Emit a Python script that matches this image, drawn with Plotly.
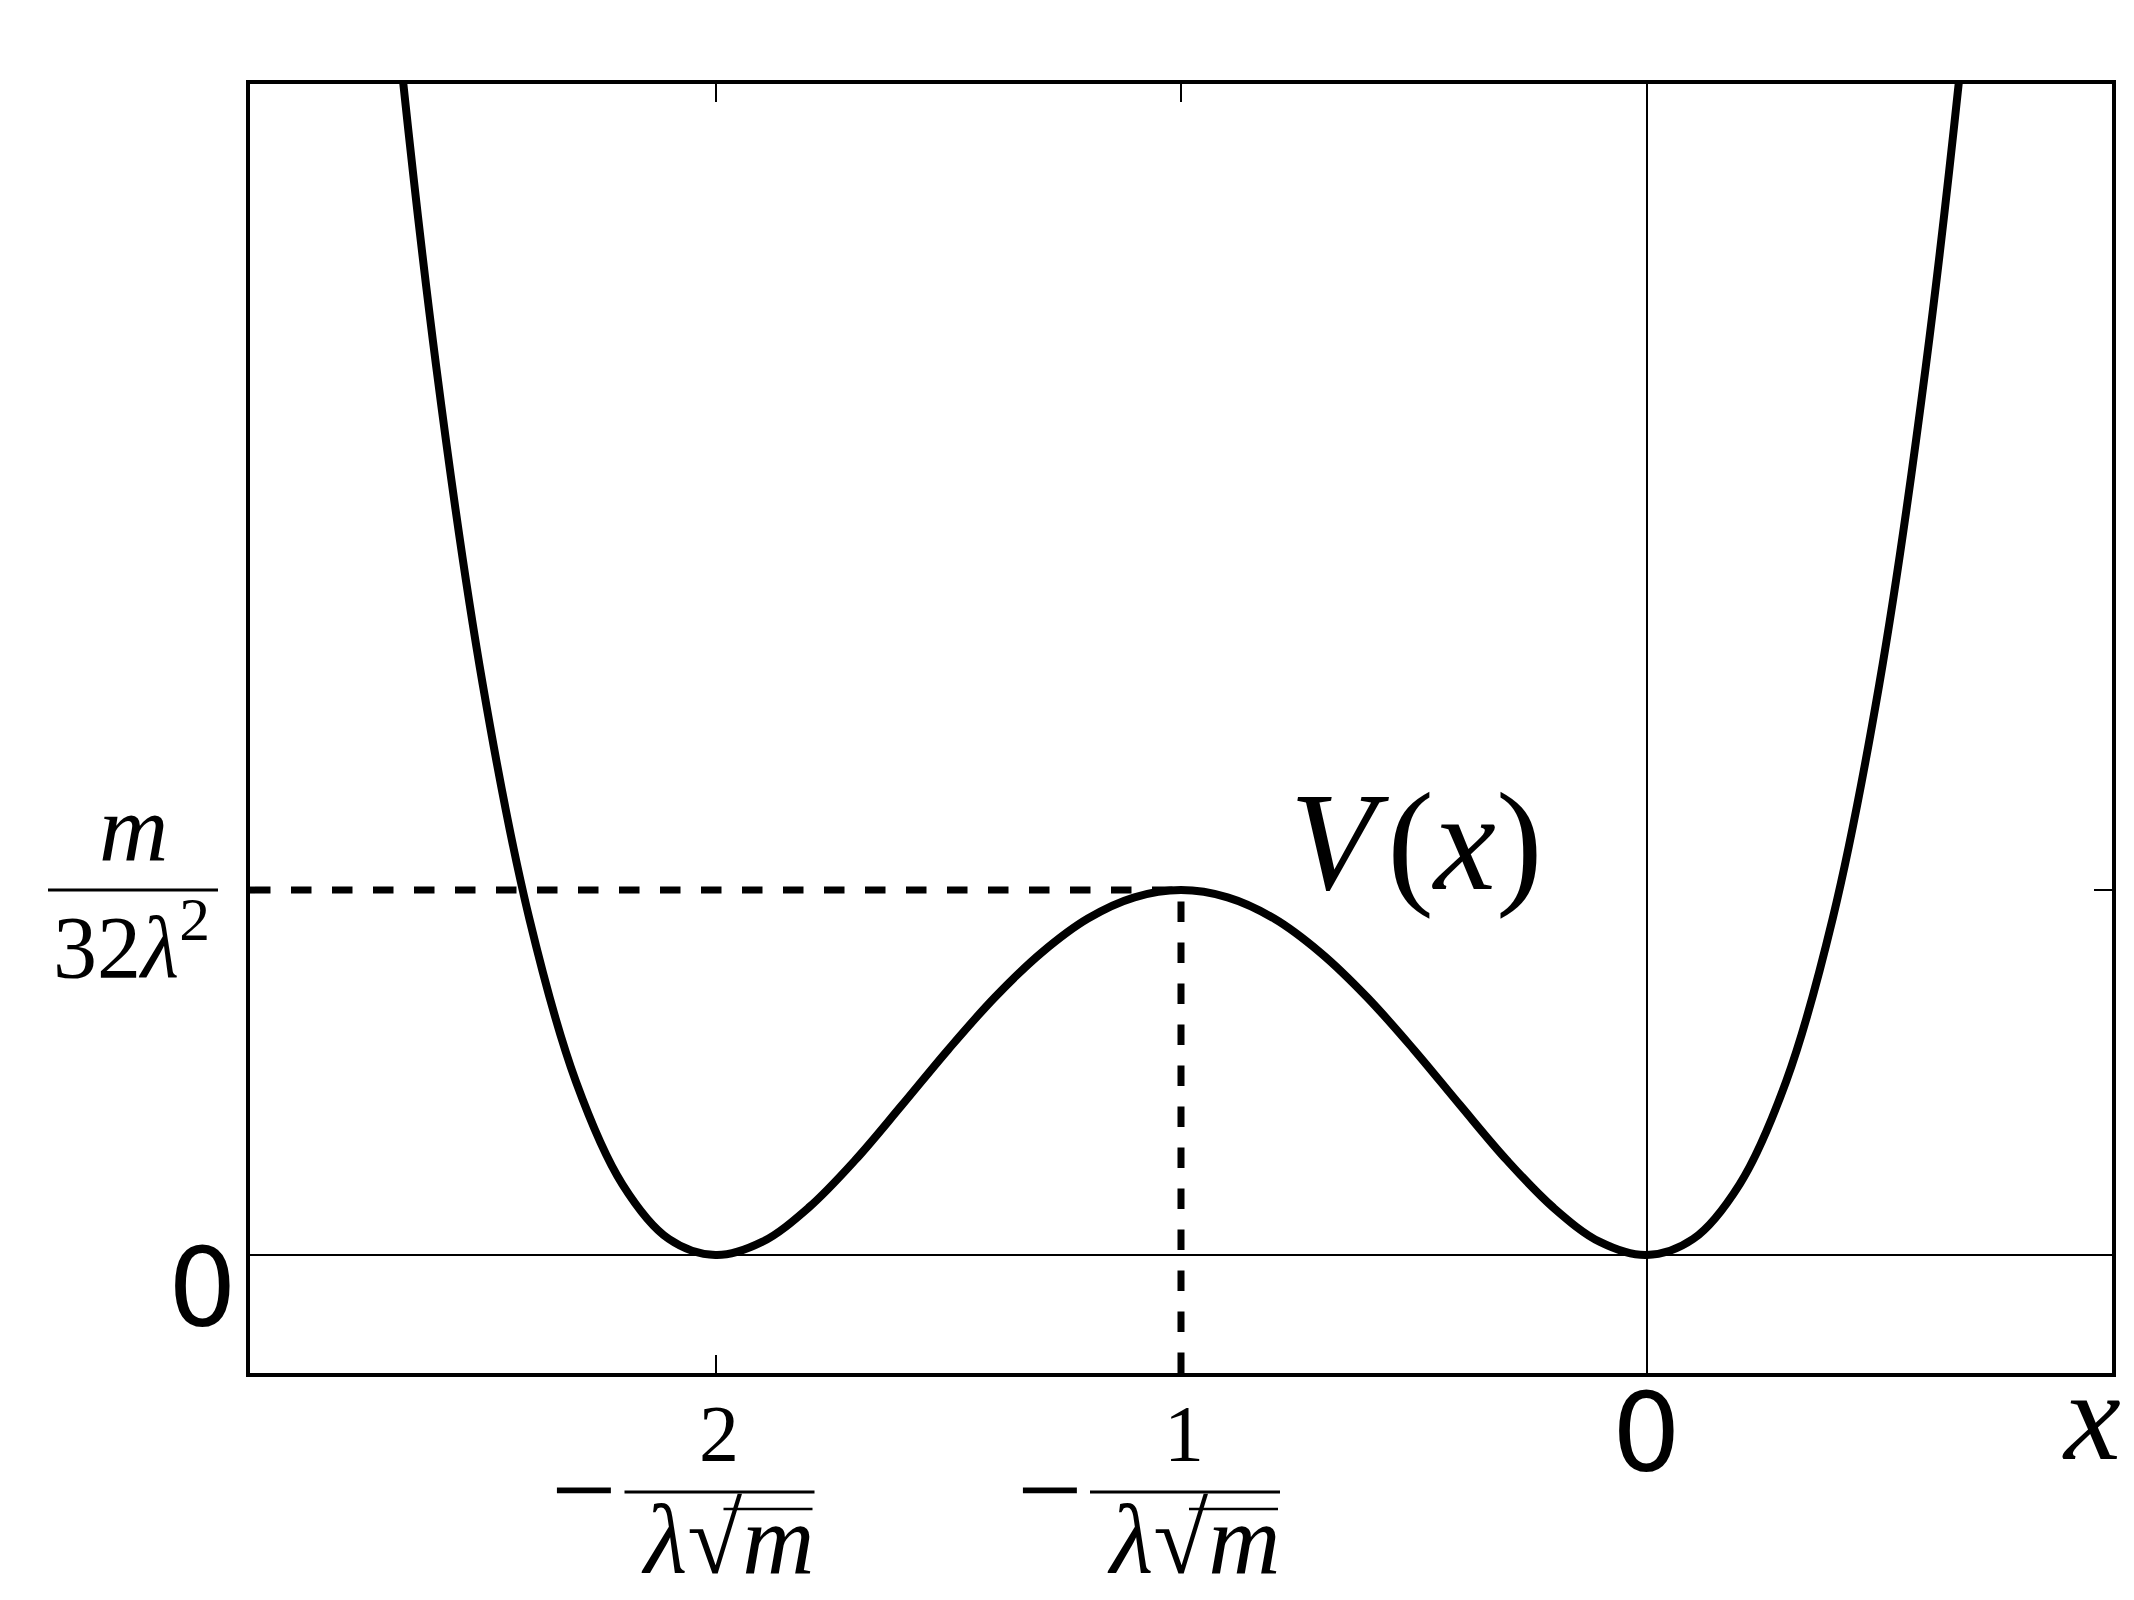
import plotly.graph_objects as go

# ---- data ----
x_vals = [-2.8, -2.7, -2.6, -2.5, -2.4, -2.3, -2.2, -2.1, -2.0, -1.9, -1.8, -1.7, -1.6,
          -1.5, -1.4, -1.3, -1.2, -1.1, -1.0, -0.9, -0.8, -0.7, -0.6, -0.5, -0.4,
          -0.3, -0.2, -0.1, 0.0, 0.1, 0.2, 0.3, 0.4, 0.5, 0.6, 0.7, 0.8]
v_vals = [5.018, 3.572, 2.434, 1.563, 0.922, 0.476, 0.194, 0.044, 0.0, 0.036, 0.130,
          0.260, 0.410, 0.563, 0.706, 0.828, 0.922, 0.980, 1.0, 0.980, 0.922, 0.828,
          0.706, 0.563, 0.410, 0.260, 0.130, 0.036, 0.0, 0.044, 0.194, 0.476, 0.922,
          1.563, 2.434, 3.572, 5.018]

x_range = [-3.0, 1.0]
y_range = [-0.323, 3.208]

barrier_x = -1.0
barrier_v = 1.0

x_tick_vals = [-2, -1, 0]
x_frac_vals = [-2, -1]
x_frac_numerators = ["2", "1"]
x_frac_denominator = "<i>λ</i>√<i>m</i>"
y_tick_vals = [0, 1]
y_frac_numerator = "<i>m</i>"
y_frac_denominator = "32<i>λ</i><sup>2</sup>"
zero_label = "0"
x_axis_label = "<i>x</i>"
curve_label = "<i>V</i>\u200a(<i>x</i>)"
curve_label_pos = (-0.494, 1.134)

SERIF = "Liberation Serif"
SANS = "DejaVu Sans"

fig = go.Figure()

# dashed guide lines
fig.add_trace(go.Scatter(x=[x_range[0], barrier_x], y=[barrier_v, barrier_v], mode="lines",
                         line=dict(color="black", width=7, dash="20.5px,20.5px"),
                         hoverinfo="skip", showlegend=False))
fig.add_trace(go.Scatter(x=[barrier_x, barrier_x], y=[y_range[0], barrier_v], mode="lines",
                         line=dict(color="black", width=7, dash="20.5px,20.5px"),
                         hoverinfo="skip", showlegend=False))
# potential curve
fig.add_trace(go.Scatter(x=x_vals, y=v_vals, mode="lines",
                         line=dict(color="black", width=8, shape="spline", smoothing=1),
                         showlegend=False))

annotations = []
shapes = []

# x fraction tick labels
for xv, num in zip(x_frac_vals, x_frac_numerators):
    annotations.append(dict(x=xv, xref="x", y=0, yref="paper", text=num, showarrow=False,
                            xanchor="center", yanchor="middle", xshift=3, yshift=-61,
                            font=dict(family=SERIF, size=80, color="black")))
    annotations.append(dict(x=xv, xref="x", y=0, yref="paper", text="−", showarrow=False,
                            xanchor="center", yanchor="middle", xshift=-132, yshift=-117,
                            font=dict(family=SERIF, size=116, color="black")))
    annotations.append(dict(x=xv, xref="x", y=0, yref="paper", text=x_frac_denominator,
                            showarrow=False, xanchor="center", yanchor="middle",
                            xshift=12, yshift=-166,
                            font=dict(family=SERIF, size=100, color="black")))
    # fraction bar
    shapes.append(dict(type="line", xref="x", xsizemode="pixel", xanchor=xv, x0=-91, x1=99,
                       yref="paper", ysizemode="pixel", yanchor=0, y0=-119, y1=-119,
                       line=dict(color="black", width=3)))
    # square-root vinculum
    shapes.append(dict(type="line", xref="x", xsizemode="pixel", xanchor=xv, x0=8, x1=97,
                       yref="paper", ysizemode="pixel", yanchor=0, y0=-136, y1=-136,
                       line=dict(color="black", width=2.5)))

# x = 0 label and axis label
annotations.append(dict(x=0, xref="x", y=0, yref="paper", text=zero_label, showarrow=False,
                        xanchor="center", yanchor="middle", yshift=-59,
                        font=dict(family=SANS, size=108, color="black")))
annotations.append(dict(x=1, xref="paper", y=0, yref="paper", text=x_axis_label,
                        showarrow=False, xanchor="center", yanchor="middle",
                        xshift=-21, yshift=-43,
                        font=dict(family=SERIF, size=128, color="black")))

# y labels
annotations.append(dict(x=0, xref="paper", y=0, yref="y", text=zero_label, showarrow=False,
                        xanchor="center", yanchor="middle", xshift=-48, yshift=-32,
                        font=dict(family=SANS, size=108, color="black")))
annotations.append(dict(x=0, xref="paper", y=barrier_v, yref="y", text=y_frac_numerator,
                        showarrow=False, xanchor="center", yanchor="middle",
                        xshift=-117, yshift=62,
                        font=dict(family=SERIF, size=96, color="black")))
annotations.append(dict(x=0, xref="paper", y=barrier_v, yref="y", text=y_frac_denominator,
                        showarrow=False, xanchor="center", yanchor="middle",
                        xshift=-119, yshift=-50,
                        font=dict(family=SERIF, size=88, color="black")))
shapes.append(dict(type="line", xref="paper", xsizemode="pixel", xanchor=0, x0=-202, x1=-32,
                   yref="y", y0=barrier_v, y1=barrier_v,
                   line=dict(color="black", width=3)))

# curve label
annotations.append(dict(x=curve_label_pos[0], y=curve_label_pos[1], xref="x", yref="y",
                        text=curve_label, showarrow=False, xanchor="center", yanchor="middle",
                        font=dict(family=SERIF, size=140, color="black")))

axis_common = dict(showline=True, linecolor="black", linewidth=4, mirror="ticks",
                   ticks="inside", ticklen=18, tickwidth=2, tickcolor="black",
                   showticklabels=False, showgrid=False,
                   zeroline=True, zerolinecolor="black", zerolinewidth=2)

fig.update_layout(
    width=2134, height=1600,
    margin=dict(l=250, r=22, t=84, b=227),
    paper_bgcolor="white", plot_bgcolor="white",
    xaxis=dict(range=x_range, tickvals=x_tick_vals, **axis_common),
    yaxis=dict(range=y_range, tickvals=y_tick_vals, **axis_common),
    annotations=annotations, shapes=shapes,
    showlegend=False,
)

fig.write_html("out.html")
